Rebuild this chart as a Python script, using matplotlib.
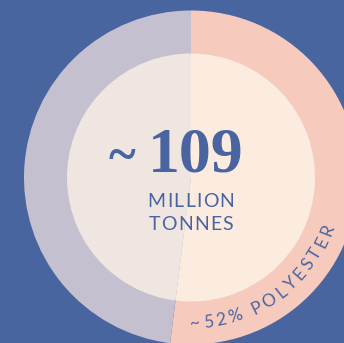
import math

import matplotlib
matplotlib.use('Agg')
import matplotlib.pyplot as plt
from matplotlib.font_manager import FontProperties

# --- data ---
shares = [52, 48]                 # % polyester, % other
share_labels = ['polyester', 'other']
total_value = '109'
total_prefix = '~'
unit_lines = ['MILLION', 'TONNES']
arc_label = '~52% POLYESTER'

# --- style ---
BG = '#4965a0'
TEXT = '#4a64a0'
RING = ['#f6cbbe', '#c4c0cf']
INNER = ['#fcebdf', '#f0e6e1']

W, H = 344, 343
cx, cy = 191, 165.5          # circle centre in pixel-ish data coords (y up)
R_OUT, R_IN = 167, 124

fig = plt.figure(figsize=(W / 100, H / 100), dpi=100, facecolor=BG)
ax = fig.add_axes([0, 0, 1, 1])
ax.set_facecolor(BG)

ax.pie(shares, colors=RING, startangle=90, counterclock=False,
       radius=R_OUT, center=(cx, cy), wedgeprops=dict(linewidth=0))
ax.pie(shares, colors=INNER, startangle=90, counterclock=False,
       radius=R_IN, center=(cx, cy), wedgeprops=dict(linewidth=0))

ax.set_xlim(0, W)
ax.set_ylim(0, H)
ax.set_aspect('auto')
ax.axis('off')
renderer = fig.canvas.get_renderer()


def tracked_text(x, y, s, fp, track):
    # centred line of text with extra letter spacing (px)
    ws = [renderer.get_text_width_height_descent(c, fp, ismath=False)[0] for c in s]
    total = sum(ws) + track * (len(s) - 1)
    left = x - total / 2
    for c, w in zip(s, ws):
        ax.text(left, y, c, ha='left', va='baseline', color=TEXT, fontproperties=fp)
        left += w + track


# centre number
ax.text(122, 172, total_prefix, ha='center', va='baseline', color=TEXT,
        family='Liberation Serif', fontweight='bold', fontsize=37)
ax.text(196, 171, total_value, ha='center', va='baseline', color=TEXT,
        family='Liberation Serif', fontweight='bold', fontsize=46)
unit_fp = FontProperties(family='Lato', size=14)
for line, base_y in zip(unit_lines, [136, 113]):
    tracked_text(cx, base_y, line, unit_fp, 1.3)

# label running along the ring, counter-clockwise, tops toward the centre
fp = FontProperties(family='Lato', size=12.5)
size_px = 12.5 * 100 / 72
widths = []
for ch in arc_label:
    if ch == ' ':
        widths.append(0.25 * size_px)
    else:
        w, h, d = renderer.get_text_width_height_descent(ch, fp, ismath=False)
        widths.append(w)

r_base = 151
a0, a1 = math.radians(-88.4), math.radians(-21)
n = len(arc_label)
raw = [sum(widths[:i]) + widths[i] / 2 for i in range(n)]
track = (r_base * (a1 - a0) - (raw[-1] - raw[0])) / (n - 1)
for i, ch in enumerate(arc_label):
    s = raw[i] - raw[0] + track * i
    a = a0 + s / r_base
    ax.text(cx + r_base * math.cos(a), cy + r_base * math.sin(a), ch,
            ha='center', va='baseline', rotation=math.degrees(a) + 90,
            rotation_mode='anchor', color=TEXT, fontproperties=fp)

fig.savefig('out.png', dpi=100, facecolor=BG)
